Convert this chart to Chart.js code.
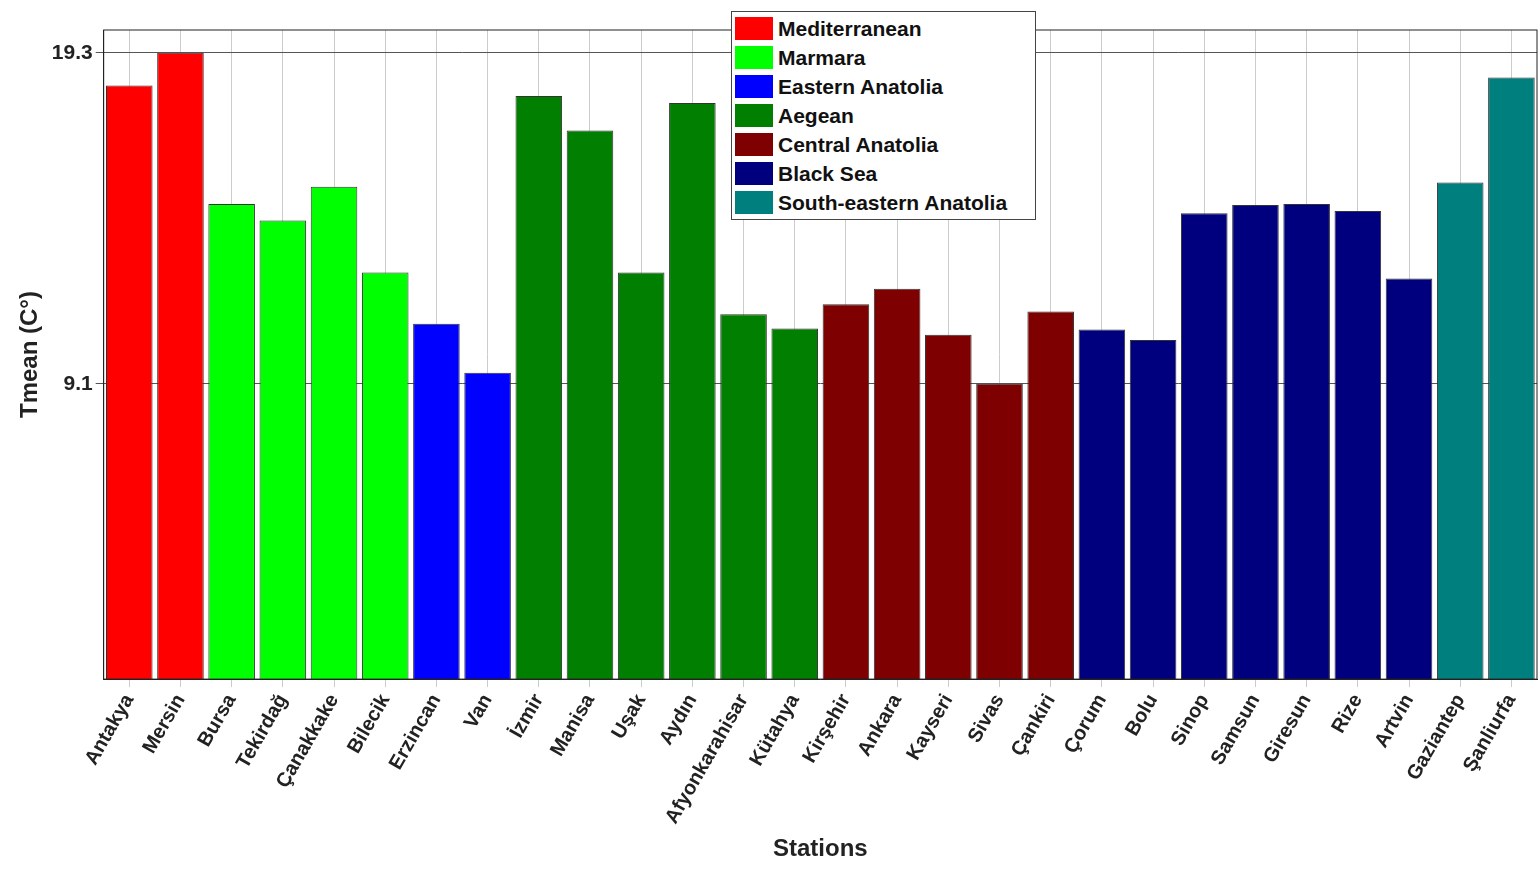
<!DOCTYPE html>
<html>
<head>
<meta charset="utf-8">
<script src="https://cdn.jsdelivr.net/npm/chart.js@4"></script>
<style>
  body { margin: 0; background: #fff; font-family: "Liberation Sans", Arial, sans-serif; }
  #wrap { position: relative; width: 1540px; height: 890px; }
  #legend { position: absolute; left: 731px; top: 11px; width: 300px; border: 1px solid #444; background: #fff; padding: 2px 0 2px 3px; }
  .item { display: flex; align-items: center; height: 29px; font-weight: bold; font-size: 21px; color: #111; }
  .sw { width: 38px; height: 23px; margin-right: 5px; }
</style>
</head>
<body>
<div id="wrap">
  <canvas id="chart" width="1540" height="890"></canvas>
  <div id="legend"></div>
</div>
<script>
const stations = ['Antakya', 'Mersin', 'Bursa', 'Tekirdağ', 'Çanakkake', 'Bilecik', 'Erzincan', 'Van', 'İzmir', 'Manisa', 'Uşak', 'Aydın', 'Afyonkarahisar', 'Kütahya', 'Kirşehir', 'Ankara', 'Kayseri', 'Sivas', 'Çankiri', 'Çorum', 'Bolu', 'Sinop', 'Samsun', 'Giresun', 'Rize', 'Artvin', 'Gaziantep', 'Şanliurfa'];
const tmean = [18.29, 19.3, 14.64, 14.13, 15.17, 12.53, 10.95, 9.44, 17.97, 16.9, 12.53, 17.75, 11.24, 10.8, 11.55, 12.03, 10.61, 9.1, 11.33, 10.77, 10.45, 14.35, 14.61, 14.64, 14.42, 12.34, 15.3, 18.54];
const regionOf = [0, 0, 1, 1, 1, 1, 2, 2, 3, 3, 3, 3, 3, 3, 4, 4, 4, 4, 4, 5, 5, 5, 5, 5, 5, 5, 6, 6];
const regions = ['Mediterranean', 'Marmara', 'Eastern Anatolia', 'Aegean', 'Central Anatolia', 'Black Sea', 'South-eastern Anatolia'];
const regionColors = ['#ff0000', '#00ff00', '#0000ff', '#007f00', '#7f0000', '#00007f', '#007f7f'];
const yTicks = [9.1, 19.3];

const legend = document.getElementById('legend');
regions.forEach((r, i) => {
  legend.innerHTML += `<div class="item"><span class="sw" style="background:${regionColors[i]}"></span>${r}</div>`;
});

// box around the plot area
const frame = {
  id: 'frame',
  afterDraw(chart) {
    const { ctx, chartArea: a } = chart;
    ctx.save();
    ctx.strokeStyle = '#222';
    ctx.lineWidth = 1;
    ctx.strokeRect(a.left, a.top, a.right - a.left, a.bottom - a.top);
    ctx.restore();
  }
};

new Chart(document.getElementById('chart'), {
  type: 'bar',
  data: {
    labels: stations,
    datasets: [{
      data: tmean,
      backgroundColor: regionOf.map((r) => regionColors[r]),
      borderColor: '#333',
      borderWidth: 1,
      barPercentage: 0.91,
      categoryPercentage: 1
    }]
  },
  options: {
    responsive: false,
    animation: false,
    layout: { padding: { top: 30, right: 3, left: 12, bottom: 22 } },
    plugins: { legend: { display: false }, tooltip: { enabled: false } },
    scales: {
      x: {
        grid: { color: '#ccc', offset: false },
        border: { color: '#222' },
        ticks: { color: '#222', font: { family: 'Liberation Sans', weight: 'bold', size: 20 }, maxRotation: 60, minRotation: 60 },
        title: { display: true, text: 'Stations', color: '#222', font: { family: 'Liberation Sans', weight: 'bold', size: 24 } }
      },
      y: {
        min: 0, max: 20,
        afterBuildTicks: (axis) => { axis.ticks = yTicks.map((v) => ({ value: v })); },
        grid: { color: '#555' },
        border: { color: '#222' },
        ticks: { color: '#222', font: { family: 'Liberation Sans', weight: 'bold', size: 21 }, callback: (v) => String(v) },
        title: { display: true, text: 'Tmean (C°)', color: '#222', font: { family: 'Liberation Sans', weight: 'bold', size: 24 } }
      }
    }
  },
  plugins: [frame]
});
</script>
</body>
</html>
